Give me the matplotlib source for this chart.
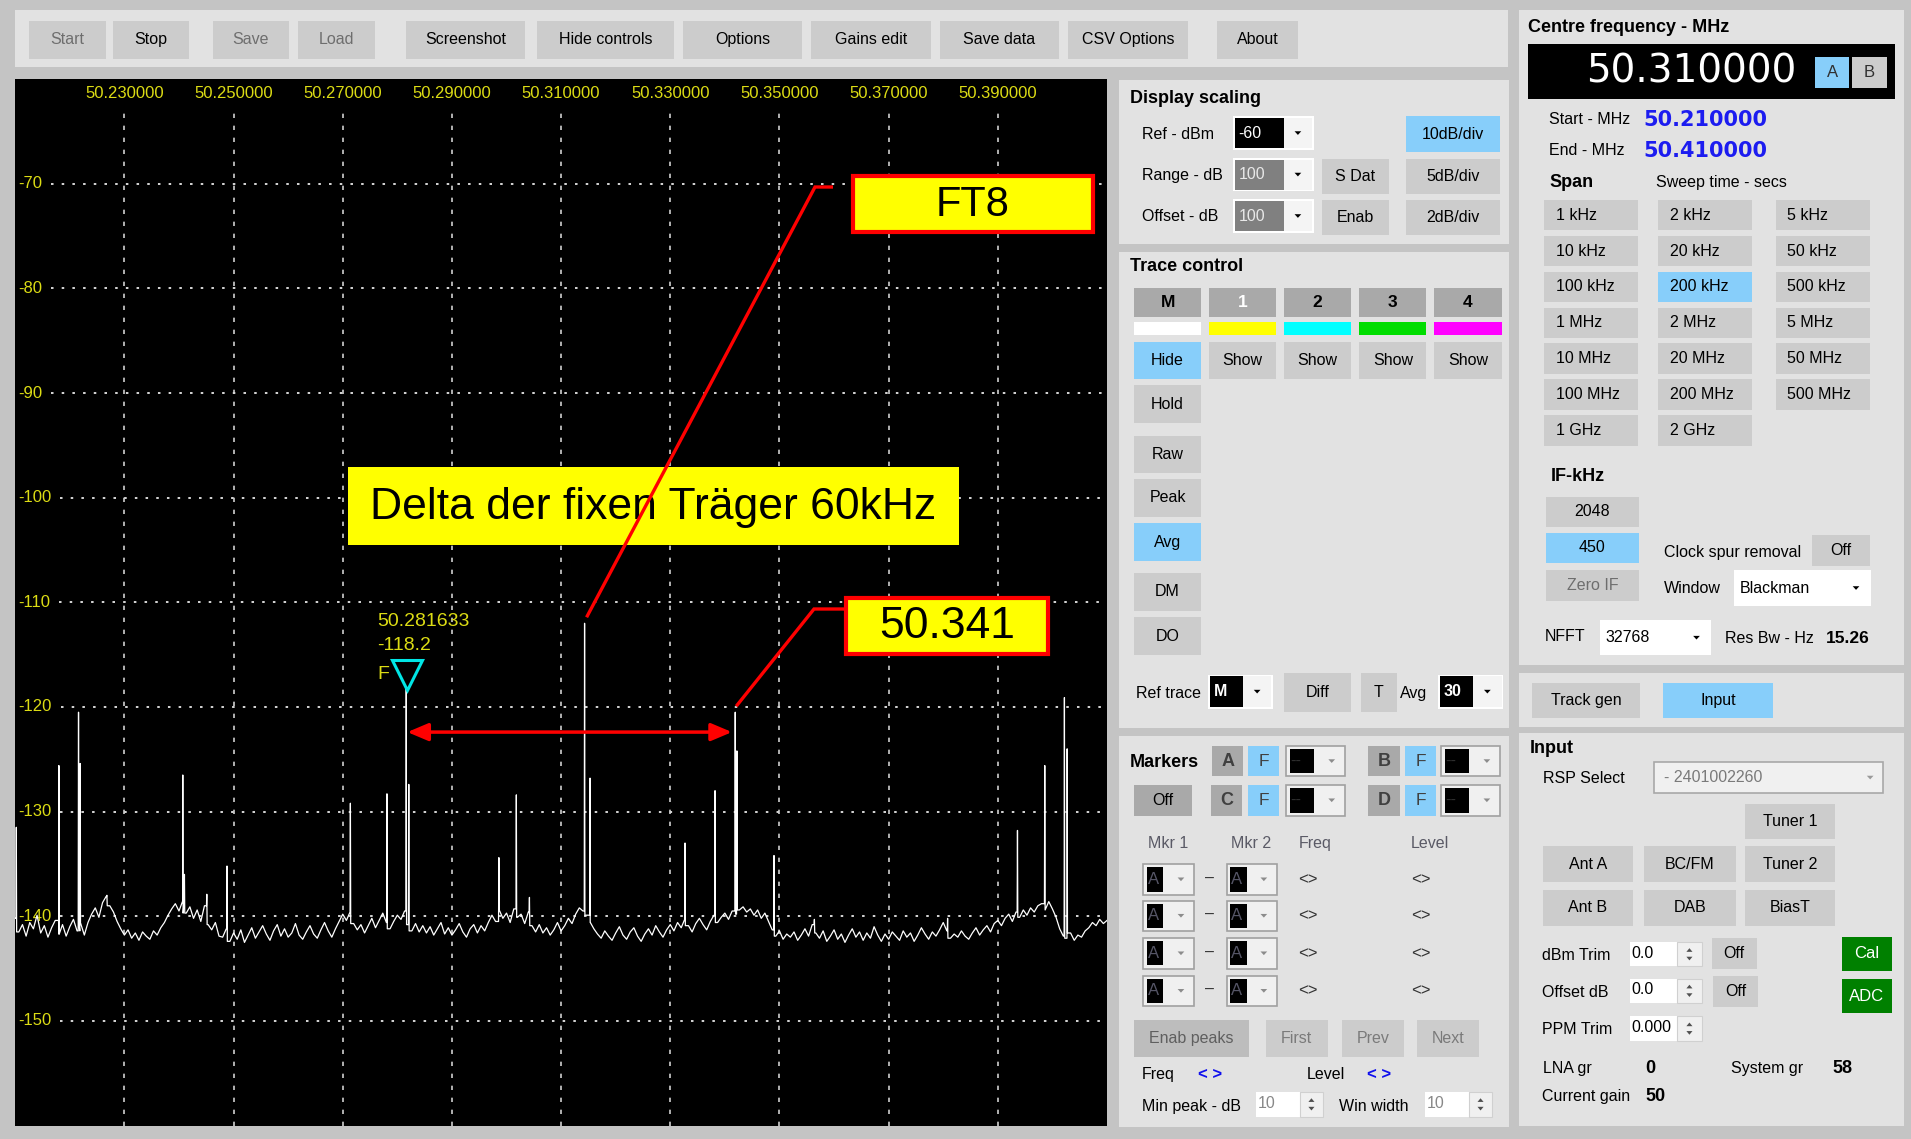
import numpy as np
import matplotlib
matplotlib.use('Agg')
import matplotlib.pyplot as plt
import matplotlib.transforms as mtransforms
from matplotlib.patches import Rectangle, Polygon
from matplotlib.lines import Line2D

W, H = 1911, 1139
S = W / 1568.0

# ---------------- data ----------------
freq_start_mhz = 50.21
freq_end_mhz = 50.41
ref_level_dbm = -60
range_db = 100

freq_ticks = [50.23, 50.25, 50.27, 50.29, 50.31, 50.33, 50.35, 50.37, 50.39]
freq_tick_labels = ['50.230000', '50.250000', '50.270000', '50.290000', '50.310000',
                    '50.330000', '50.350000', '50.370000', '50.390000']
level_ticks = [-70, -80, -90, -100, -110, -120, -130, -140, -150]
level_tick_labels = ['-70', '-80', '-90', '-100', '-110', '-120', '-130', '-140', '-150']

noise_floor_db = [
    -140.2, -141.5, -140.8, -141.9, -140.6, -141.2, -139.9, -141.6, -140.9, -142.0,
    -141.1, -140.4, -141.7, -140.8, -141.9, -141.0, -140.3, -141.4, -140.7, -141.8,
    -140.6, -139.8, -139.2, -140.1, -138.7, -138.1, -139.0, -139.6, -140.5, -141.2,
    -141.8, -141.3, -142.1, -141.6, -142.3, -141.5, -141.9, -142.2, -141.4, -141.8,
    -141.1, -140.6, -139.9, -139.3, -138.8, -139.5, -138.6, -139.7, -139.1, -140.2,
    -139.4, -140.5, -139.0, -140.8, -141.3, -140.6, -141.9, -142.0, -141.2, -142.4,
    -141.6, -142.2, -141.3, -142.5, -141.8, -141.1, -142.1, -141.5, -140.9, -141.7,
    -142.3, -141.4, -140.8, -141.9, -141.2, -142.0, -141.6, -140.7, -141.8, -142.2,
    -141.5, -140.9, -141.7, -142.1, -141.3, -140.6, -141.4, -142.0, -141.2, -140.5,
    -139.8, -140.4, -139.6, -140.7, -141.3, -140.8, -141.6, -140.9, -140.2, -141.1,
    -140.4, -139.7, -140.6, -141.2, -140.5, -139.9, -140.3, -139.5, -140.8, -141.4,
    -140.7, -141.5, -140.9, -141.6, -141.0, -141.8, -141.2, -140.6, -141.7, -141.1,
    -141.8, -141.3, -140.7, -141.5, -142.0, -141.2, -140.8, -141.6, -140.9, -141.4,
    -140.6, -139.9, -140.5, -139.4, -140.2, -139.7, -140.6, -139.3, -140.1, -139.8,
    -140.7, -139.6, -140.9, -141.5, -140.8, -141.6, -141.1, -141.8, -141.3, -140.6,
    -141.4, -140.9, -140.2, -140.7, -139.8, -139.2, -139.5, -139.9, -140.6, -141.2,
    -141.7, -142.1, -141.4, -141.9, -142.3, -141.6, -141.0, -141.8, -142.2, -141.5,
    -141.1, -141.9, -142.4, -141.7, -141.2, -141.8, -140.9, -141.5, -142.0, -141.3,
    -140.8, -141.4, -140.6, -141.1, -140.3, -140.9, -141.5, -140.7, -140.2, -140.8,
    -141.3, -140.5, -139.9, -140.6, -140.1, -139.7, -140.3, -139.5, -139.8, -139.4,
    -139.1, -139.6, -139.3, -139.9, -139.4, -140.2, -139.7, -140.5, -141.3, -141.9,
    -141.4, -142.2, -141.7, -142.0, -141.5, -142.3, -141.8, -141.2, -141.9, -140.8,
    -141.6, -142.1, -141.4, -142.4, -141.9, -141.3, -142.2, -141.7, -142.5, -141.8,
    -141.2, -142.0, -141.5, -142.3, -141.6, -142.1, -141.0, -141.8, -142.4, -141.7,
    -142.2, -141.5, -141.9, -142.3, -141.4, -142.0, -141.6, -142.4, -141.8, -141.1,
    -141.7, -142.2, -141.5, -141.9, -141.3, -140.6, -141.4, -142.1, -141.7, -142.0,
    -141.4, -141.9, -142.2, -141.6, -141.1, -141.8, -141.3, -140.9, -141.5, -140.7,
    -140.4, -140.9, -140.2, -139.8, -140.5, -139.6, -140.1, -139.4, -139.9, -139.2,
    -139.6, -139.0, -138.8, -139.4, -138.6, -139.3, -140.1, -141.2, -141.9, -142.1,
    -141.6, -142.3, -141.8, -142.0, -141.4, -141.1, -140.6, -140.9, -140.3, -140.7,
    -140.4,
]

peak_freqs = [50.2102, 50.2180, 50.2216, 50.2219, 50.2268, 50.2407, 50.2410, 50.2451,
              50.2488, 50.2714, 50.2781, 50.281633, 50.2821, 50.2986, 50.3018, 50.3042,
              50.3143, 50.3153, 50.3327, 50.3382, 50.3419, 50.3422, 50.3490, 50.3564,
              50.3808, 50.3936, 50.3986, 50.4022, 50.4027]
peak_levels = [-131.5, -125.6, -120.5, -125.4, -138.0, -126.5, -136.0, -137.9,
               -135.2, -129.2, -128.3, -118.2, -127.4, -134.4, -128.4, -138.2,
               -112.0, -126.8, -133.0, -128.0, -120.5, -124.2, -134.2, -140.3,
               -140.2, -131.8, -125.6, -119.1, -124.0]

marker_index = 11        # 50.281633 MHz, -118.2 dBm
ft8_index = 16           # FT8 signal
carrier_index = 20       # 50.341 carrier
marker_freq_text = '50.281633'
marker_level_text = '-118.2'

# ---------------- styling ----------------
BG = '#c4c4c4'
PANEL = '#e2e2e2'
BTN = '#cccccc'
BTN_DARK = '#a9a9a9'
BLUE = '#87cefa'
GRAYTXT = '#6e6e6e'
YEL = '#dcdc14'
UIF = 'Liberation Sans'

fig = plt.figure(figsize=(W / 100, H / 100), dpi=100)
fig.patch.set_facecolor(BG)

ui = fig.add_axes([0, 0, 1, 1])
ui.set_xlim(0, W)
ui.set_ylim(H, 0)
ui.axis('off')
ui.set_zorder(0)

px = mtransforms.Affine2D().scale(1, -1).translate(0, H)


def rect(x0, y0, x1, y1, fc, ec='none', lw=0.0, z=1):
    ui.add_patch(Rectangle((x0 * S, y0 * S), (x1 - x0) * S, (y1 - y0) * S,
                           facecolor=fc, edgecolor=ec, linewidth=lw, zorder=z))


def txt(x, y, s, fs=11.5, color='black', ha='left', weight='normal', family=UIF, z=4):
    ui.text(x * S, y * S, s, fontsize=fs, color=color, ha=ha, va='center',
            fontweight=weight, family=family, zorder=z)


def btn(x0, y0, x1, y1, s, fc=BTN, color='black', fs=11.5, weight='normal', align='center'):
    rect(x0, y0, x1, y1, fc, z=2)
    if align == 'center':
        txt((x0 + x1) / 2, (y0 + y1) / 2, s, fs, color, 'center', weight)
    else:
        txt(x0 + 9.5, (y0 + y1) / 2, s, fs, color, 'left', weight)


def tri(cx, cy, w, h, color, up=False, z=4):
    if up:
        pts = [(cx - w / 2, cy + h / 2), (cx + w / 2, cy + h / 2), (cx, cy - h / 2)]
    else:
        pts = [(cx - w / 2, cy - h / 2), (cx + w / 2, cy - h / 2), (cx, cy + h / 2)]
    ui.add_patch(Polygon([(a * S, b * S) for a, b in pts], closed=True,
                         facecolor=color, edgecolor='none', zorder=z))


def combo(x0, y0, xs, x1, y1, s, fc, tc, arrow='black', frame='#ffffff',
          weight='normal', fs=11.5, arrow_x=None):
    rect(x0 - 1.5, y0 - 1.5, x1 + 1.5, y1 + 1.5, frame, z=2)
    rect(x0, y0, xs, y1, fc, z=2.5)
    rect(xs, y0, x1, y1, '#f4f4f4' if fc != '#ffffff' else '#ffffff', z=2.5)
    ax_ = (xs + x1) / 2 if arrow_x is None else arrow_x
    tri(ax_, (y0 + y1) / 2, 5.5, 3, arrow)
    txt(x0 + 3, (y0 + y1) / 2, s, fs, tc, weight=weight)


def mdrop(x0, y0, x1, y1, sq1, s, arrow_x, tc='#555566'):
    rect(x0, y0, x1, y1, '#f0f0f0', ec='#a0a0a0', lw=1.2, z=2)
    rect(x0 + 3, y0 + 2.5, sq1, y1 - 2.5, 'black', z=2.5)
    txt(x0 + 3.5, (y0 + y1) / 2, s, 12, tc)
    tri(arrow_x, (y0 + y1) / 2, 5.5, 3, '#8c8c8c')


def spin(x0, y0, xs, x1, y1, s, tc='black'):
    rect(x0, y0, xs, y1, '#ffffff', z=2)
    rect(xs, y0, x1, y1, '#f0f0f0', ec='#d0d0d0', lw=0.8, z=2)
    cx = (xs + x1) / 2
    cy = (y0 + y1) / 2
    tri(cx, cy - 3.5, 5, 3, '#505050', up=True)
    tri(cx, cy + 3.5, 5, 3, '#505050')
    txt(x0 + 1, cy - 1, s, 11.5, tc)


# ---------------- toolbar ----------------
rect(12, 8.2, 1237, 55, PANEL)
toolbar = [(23.5, 86.7, 'Start', GRAYTXT), (92.6, 155, 'Stop', 'black'),
           (174.6, 237.3, 'Save', GRAYTXT), (244.4, 307.6, 'Load', GRAYTXT),
           (333, 431, 'Screenshot', 'black'), (440.6, 552.8, 'Hide controls', 'black'),
           (560.3, 658, 'Options', 'black'), (665.2, 763.6, 'Gains edit', 'black'),
           (771.3, 869, 'Save data', 'black'), (876.6, 974.8, 'CSV Options', 'black'),
           (998.4, 1065, 'About', 'black')]
for x0, x1, lab, col in toolbar:
    btn(x0, 17, x1, 48, lab, color=col)

# ---------------- display scaling ----------------
rect(918, 66, 1238, 200, PANEL)
txt(927, 80.6, 'Display scaling', 13, weight='bold')
txt(937, 110.2, 'Ref - dBm')
txt(937, 144.2, 'Range - dB')
txt(937, 178, 'Offset - dB')
combo(1013.4, 97, 1053.6, 1076.3, 121.4, '-60', 'black', 'white')
combo(1013.4, 131, 1053.6, 1076.3, 155.5, '100', '#808080', '#e8e8e8')
combo(1013.4, 165, 1053.6, 1076.3, 189.5, '100', '#808080', '#e8e8e8')
btn(1084.5, 130.5, 1139.5, 159.5, 'S Dat')
btn(1084.5, 164, 1139.5, 193, 'Enab')
btn(1153.7, 95.5, 1230.8, 124.5, '10dB/div', fc=BLUE)
btn(1153.7, 130.5, 1230.8, 159.5, '5dB/div')
btn(1153.7, 164, 1230.8, 193, '2dB/div')

# ---------------- trace control ----------------
rect(918, 207, 1238, 597, PANEL)
txt(927, 219, 'Trace control', 13, weight='bold')
cols = [(930.5, 985.5), (992, 1047), (1053.6, 1108.6), (1115.4, 1170.4), (1177, 1232)]
heads = ['M', '1', '2', '3', '4']
head_col = ['black', 'white', 'black', 'black', 'black']
strips = ['#ffffff', '#ffff00', '#00ffff', '#00dd00', '#ff00ff']
for (x0, x1), h, hc, sc in zip(cols, heads, head_col, strips):
    btn(x0, 236, x1, 260, h, fc=BTN_DARK, color=hc, fs=12.5, weight='bold')
    rect(x0, 264, x1, 275.2, sc, z=2)
btn(cols[0][0], 280.3, cols[0][1], 311, 'Hide', fc=BLUE)
for x0, x1 in cols[1:]:
    btn(x0, 280.3, x1, 311, 'Show')
left_btns = [(316, 347, 'Hold', BTN), (357.5, 388.5, 'Raw', BTN), (393, 424, 'Peak', BTN),
             (429, 460.6, 'Avg', BLUE), (470, 501.4, 'DM', BTN), (506.5, 537.8, 'DO', BTN)]
for y0, y1, lab, fc in left_btns:
    btn(930.5, y0, 985.5, y1, lab, fc=fc)
txt(932, 568.7, 'Ref trace')
combo(993, 555, 1020, 1043, 580, 'M', 'black', 'white', weight='bold')
btn(1053.6, 552, 1108.6, 584, 'Diff')
btn(1116.5, 552, 1146, 584, 'T')
txt(1148.8, 568.7, 'Avg')
combo(1181.6, 555, 1208.8, 1232, 580, '30', 'black', 'white', weight='bold')

# ---------------- markers ----------------
rect(918, 603.5, 1238, 925, PANEL)
txt(927, 625.8, 'Markers', 13, weight='bold')
btn(994.8, 612, 1020, 637, 'A', fc=BTN_DARK, color='#404040', fs=13, weight='bold')
btn(1024.3, 612, 1049.8, 637, 'F', fc=BLUE, color='#404040', fs=12.5)
mdrop(1055.2, 612, 1103.6, 637, 1078.2, '--', 1092.7, tc='#303030')
btn(1122.8, 612, 1148.8, 637, 'B', fc=BTN_DARK, color='#404040', fs=13, weight='bold')
btn(1152.9, 612, 1178.3, 637, 'F', fc=BLUE, color='#404040', fs=12.5)
mdrop(1182.4, 612, 1230.8, 637, 1205.4, '--', 1220, tc='#303030')
btn(930.5, 644, 977.8, 669.3, 'Off', fc=BTN_DARK, color='black')
btn(993.7, 644, 1018.8, 669.3, 'C', fc=BTN_DARK, color='#404040', fs=13, weight='bold')
btn(1024.3, 644, 1049.8, 669.3, 'F', fc=BLUE, color='#404040', fs=12.5)
mdrop(1055.2, 644, 1103.6, 669.3, 1078.2, '--', 1092.7, tc='#303030')
btn(1122.8, 644, 1148.8, 669.3, 'D', fc=BTN_DARK, color='#404040', fs=13, weight='bold')
btn(1152.9, 644, 1178.3, 669.3, 'F', fc=BLUE, color='#404040', fs=12.5)
mdrop(1182.4, 644, 1230.8, 669.3, 1205.4, '--', 1220, tc='#303030')
hdr_col = '#5a5a66'
txt(942.3, 692.5, 'Mkr 1', color=hdr_col)
txt(1010, 692.5, 'Mkr 2', color=hdr_col)
txt(1065.6, 692.5, 'Freq', color=hdr_col)
txt(1157.8, 692.5, 'Level', color=hdr_col)
for cy in [721.5, 751.4, 782.2, 813]:
    mdrop(938.1, cy - 12.5, 980, cy + 12.5, 954.6, 'A', 969)
    txt(992.8, cy - 1, '–', 11.5, '#333333', ha='center')
    mdrop(1006.5, cy - 12.5, 1048, cy + 12.5, 1023, 'A', 1037)
    txt(1073.5, cy, '<>', 12, '#333333', ha='center')
    txt(1166, cy, '<>', 12, '#333333', ha='center')
btn(930.5, 837, 1025, 867, 'Enab peaks', fc='#bdbdbd', color='#5f5f5f')
btn(1038.6, 837, 1089.4, 867, 'First', fc=BTN, color='#7a7a7a')
btn(1101.4, 837, 1152.3, 867, 'Prev', fc=BTN, color='#7a7a7a')
btn(1163, 837, 1213.8, 867, 'Next', fc=BTN, color='#7a7a7a')
txt(936.8, 882, 'Freq')
txt(992.6, 882, '< >', 12, '#1010ee', ha='center', weight='bold')
txt(1072.2, 882, 'Level')
txt(1131.5, 882, '< >', 12, '#1010ee', ha='center', weight='bold')
txt(936.8, 907.5, 'Min peak - dB')
spin(1030.6, 896, 1066.7, 1085.4, 916.3, '10', tc='#888888')
txt(1099, 907.5, 'Win width')
spin(1169.3, 896, 1205.6, 1224, 916.3, '10', tc='#888888')

# ---------------- centre frequency panel ----------------
rect(1246, 8.2, 1562, 546, PANEL)
txt(1254, 22.5, 'Centre frequency - MHz', 13, weight='bold')
rect(1254, 36.3, 1555, 81, 'black', z=2)
txt(1387.5, 58.7, '50.310000', 28, 'white', ha='center', family='DejaVu Sans')
btn(1489.4, 46.6, 1517.3, 72.5, 'A', fc=BLUE, color='#303030', fs=12)
btn(1519.4, 46.6, 1548, 72.5, 'B', fc=BTN, color='#303030', fs=12)
txt(1271.3, 98.4, 'Start - MHz')
txt(1348.4, 98.4, '50.210000', 15, '#1c1cf0', weight='bold', family='DejaVu Sans')
txt(1271.3, 123.6, 'End - MHz')
txt(1348.4, 123.6, '50.410000', 15, '#1c1cf0', weight='bold', family='DejaVu Sans')
txt(1271.3, 149.5, 'Span', 13, weight='bold')
txt(1358.6, 149.5, 'Sweep time - secs')
span_labels = [['1 kHz', '2 kHz', '5 kHz'], ['10 kHz', '20 kHz', '50 kHz'],
               ['100 kHz', '200 kHz', '500 kHz'], ['1 MHz', '2 MHz', '5 MHz'],
               ['10 MHz', '20 MHz', '50 MHz'], ['100 MHz', '200 MHz', '500 MHz'],
               ['1 GHz', '2 GHz', None]]
span_cols = [(1267, 1344), (1360.6, 1437.7), (1457, 1534.5)]
for r, row in enumerate(span_labels):
    y0 = 164 + r * 29.46
    for c, lab in enumerate(row):
        if lab is None:
            continue
        fc = BLUE if lab == '200 kHz' else BTN
        btn(span_cols[c][0], y0, span_cols[c][1], y0 + 25, lab, fc=fc, align='left')
txt(1272.4, 391, 'IF-kHz', 13, weight='bold')
btn(1268.3, 407.5, 1345, 432.4, '2048')
btn(1268.3, 437, 1345, 462, '450', fc=BLUE)
btn(1268.3, 468, 1345, 493, 'Zero IF', color=GRAYTXT)
txt(1365.5, 453, 'Clock spur removal')
btn(1486.6, 439.3, 1534.5, 464.5, 'Off')
txt(1365.5, 482.5, 'Window')
combo(1424.2, 469.5, 1512, 1533.8, 495.5, 'Blackman', '#ffffff', 'black')
txt(1267.8, 522, 'NFFT')
combo(1314.5, 510.5, 1382, 1402, 536, '32768', '#ffffff', 'black')
txt(1415.5, 524, 'Res Bw - Hz')
txt(1498.3, 524, '15.26', 12.5, weight='bold')

# ---------------- track gen / input ----------------
rect(1246, 552, 1562, 596.5, PANEL)
btn(1257, 560, 1346, 589, 'Track gen')
btn(1364.5, 560, 1455, 589, 'Input', fc=BLUE)

rect(1246.5, 601.5, 1562, 924, PANEL)
txt(1255.5, 614, 'Input', 13, weight='bold')
txt(1265.8, 639, 'RSP Select')
rect(1357, 625, 1545, 651, '#f0f0f0', ec='#a8a8a8', lw=1.2, z=2)
txt(1365.6, 638, '- 2401002260', 11.5, '#7a7a7a')
tri(1534.5, 638, 5.5, 3, '#9a9a9a')
btn(1432, 660, 1506, 688.5, 'Tuner 1')
btn(1266, 694, 1340, 724, 'Ant A')
btn(1349, 694, 1424, 724, 'BC/FM')
btn(1432, 694, 1506, 724, 'Tuner 2')
btn(1266, 730, 1340, 760, 'Ant B')
btn(1349, 730, 1424, 760, 'DAB')
btn(1432, 730, 1506, 760, 'BiasT')
txt(1265, 783.6, 'dBm Trim')
spin(1337.5, 773, 1375.8, 1396.6, 793, '0.0')
btn(1404.5, 769.7, 1441.4, 795, 'Off')
btn(1511, 768.6, 1552, 796.8, 'Cal', fc='#008000', color='white', fs=12)
txt(1265, 814.5, 'Offset dB')
spin(1337.5, 803, 1375.8, 1396.6, 823, '0.0')
btn(1405.7, 800.8, 1442.5, 826, 'Off')
btn(1511, 803.5, 1552, 831.4, 'ADC', fc='#008000', color='white', fs=12)
txt(1265, 844.6, 'PPM Trim')
spin(1337.5, 834, 1375.8, 1396.6, 854, '0.000')
txt(1265.8, 876.5, 'LNA gr')
txt(1350, 876.5, '0', 13, weight='bold')
txt(1420, 876.5, 'System gr')
txt(1503.8, 876.5, '58', 13, weight='bold')
txt(1265, 900, 'Current gain')
txt(1350, 900, '50', 13, weight='bold')

# ---------------- spectrum display ----------------
L, TOP, RIGHT, BOT = 15.2, 79.2, 1107.0, 1125.5
ax = fig.add_axes([L / W, (H - BOT) / H, (RIGHT - L) / W, (BOT - TOP) / H])
ax.set_zorder(1)
ax.set_facecolor('black')
ax.set_xlim(freq_start_mhz, freq_end_mhz)
ax.set_ylim(ref_level_dbm - range_db, ref_level_dbm)
ax.set_xticks([])
ax.set_yticks([])
for sp in ax.spines.values():
    sp.set_visible(False)

plot_w = RIGHT - L
plot_h = BOT - TOP
ax.vlines(freq_ticks, 0, 1 - 34 / plot_h, transform=ax.get_xaxis_transform(),
          colors='#cfcfcf', linestyles=(0, (2.6, 4.6)), linewidth=1.2, zorder=1)

for f, lab in zip(freq_ticks, freq_tick_labels):
    ax.text(f, 1 - 14 / plot_h, lab, transform=ax.get_xaxis_transform(), color=YEL,
            fontsize=12, family=UIF, ha='center', va='center', zorder=2)

renderer = fig.canvas.get_renderer()
for lv, lab in zip(level_ticks, level_tick_labels):
    t = ax.text(3.0 / plot_w, lv, lab, transform=ax.get_yaxis_transform(), color=YEL,
                fontsize=12, family=UIF, ha='left', va='center', zorder=2)
    ext = t.get_window_extent(renderer)
    x_start = (ext.x1 - ax.bbox.x0 + 9) / plot_w
    ax.hlines(lv, x_start, 1, transform=ax.get_yaxis_transform(), colors='#d6d6d6',
              linestyles=(0, (1.3, 4.2)), linewidth=1.4, zorder=1)

# trace: noise floor samples with the peaks merged in
nf = np.linspace(freq_start_mhz, freq_end_mhz, len(noise_floor_db))
pts = list(zip(nf.tolist(), noise_floor_db))
half = 0.00006
for f, lv in zip(peak_freqs, peak_levels):
    j = int(np.searchsorted(nf, f))
    lft = noise_floor_db[max(j - 1, 0)]
    rgt = noise_floor_db[min(j, len(noise_floor_db) - 1)]
    pts += [(f - half, lft), (f, lv), (f + half, rgt)]
pts.sort()
tf = [p[0] for p in pts]
td = [p[1] for p in pts]
ax.plot(tf, td, color='white', linewidth=0.9, zorder=3)

# marker
mf, ml = peak_freqs[marker_index], peak_levels[marker_index]
tri_tr = mtransforms.offset_copy(ax.transData, fig, x=0.5, y=13, units='dots')
ax.plot([mf], [ml], marker='v', markersize=21, markerfacecolor='none',
        markeredgecolor='#00e6e6', markeredgewidth=2.2, transform=tri_tr, zorder=4)
for dy, s in [(67, marker_freq_text), (43, marker_level_text), (14, 'F')]:
    ax.text(mf, ml, s, color=YEL, fontsize=14, family=UIF, ha='left', va='center',
            transform=mtransforms.offset_copy(ax.transData, fig, x=-29, y=dy, units='dots'),
            zorder=4)


def to_px(f, lv):
    d = ax.transData.transform((f, lv))
    return d[0], H - d[1]


def poly_px(points, color='#ff0000', lw=2.4, z=6):
    ln = Line2D([p[0] for p in points], [p[1] for p in points], color=color,
                linewidth=lw, transform=px, zorder=z, clip_on=False,
                solid_capstyle='butt', solid_joinstyle='miter')
    ax.add_line(ln)


def box_px(x0, y0, x1, y1, text, fs, edge=True, z=7):
    ax.add_patch(Rectangle((x0, y0), x1 - x0, y1 - y0, transform=px, facecolor='#ffff00',
                           edgecolor='#ff0000' if edge else 'none',
                           linewidth=3 if edge else 0, zorder=z, clip_on=False))
    ax.text((x0 + x1) / 2, (y0 + y1) / 2 + 1, text, transform=px, fontsize=fs,
            family=UIF, color='black', ha='center', va='center', zorder=z + 0.5,
            clip_on=False)


# Delta box (red FT8 line crosses over it)
box_px(348, 467, 959, 545, 'Delta der fixen Träger 60kHz', 32, edge=False, z=5)

# FT8 connector and box
fx, fy = to_px(peak_freqs[ft8_index], peak_levels[ft8_index])
poly_px([(833, 187), (815, 187), (fx + 2, fy - 6)])
box_px(853, 176, 1093, 232, 'FT8', 30)

# 50.341 connector and box
cx, cy = to_px(peak_freqs[carrier_index], peak_levels[carrier_index])
poly_px([(846, 609), (814, 609), (cx + 1, cy - 6)])
box_px(846, 598, 1048, 654, '50.341', 32)

# double arrow between the two fixed carriers
arrow_level = -122.4
ax.annotate('', xy=(peak_freqs[carrier_index] - 0.0006, arrow_level),
            xytext=(mf + 0.0002, arrow_level),
            arrowprops=dict(arrowstyle='<|-|>,head_length=0.9,head_width=0.38',
                            color='#ff0000', lw=2.5, shrinkA=0, shrinkB=0,
                            mutation_scale=14),
            zorder=6)

fig.savefig('out.png', dpi=100, facecolor=fig.get_facecolor())
